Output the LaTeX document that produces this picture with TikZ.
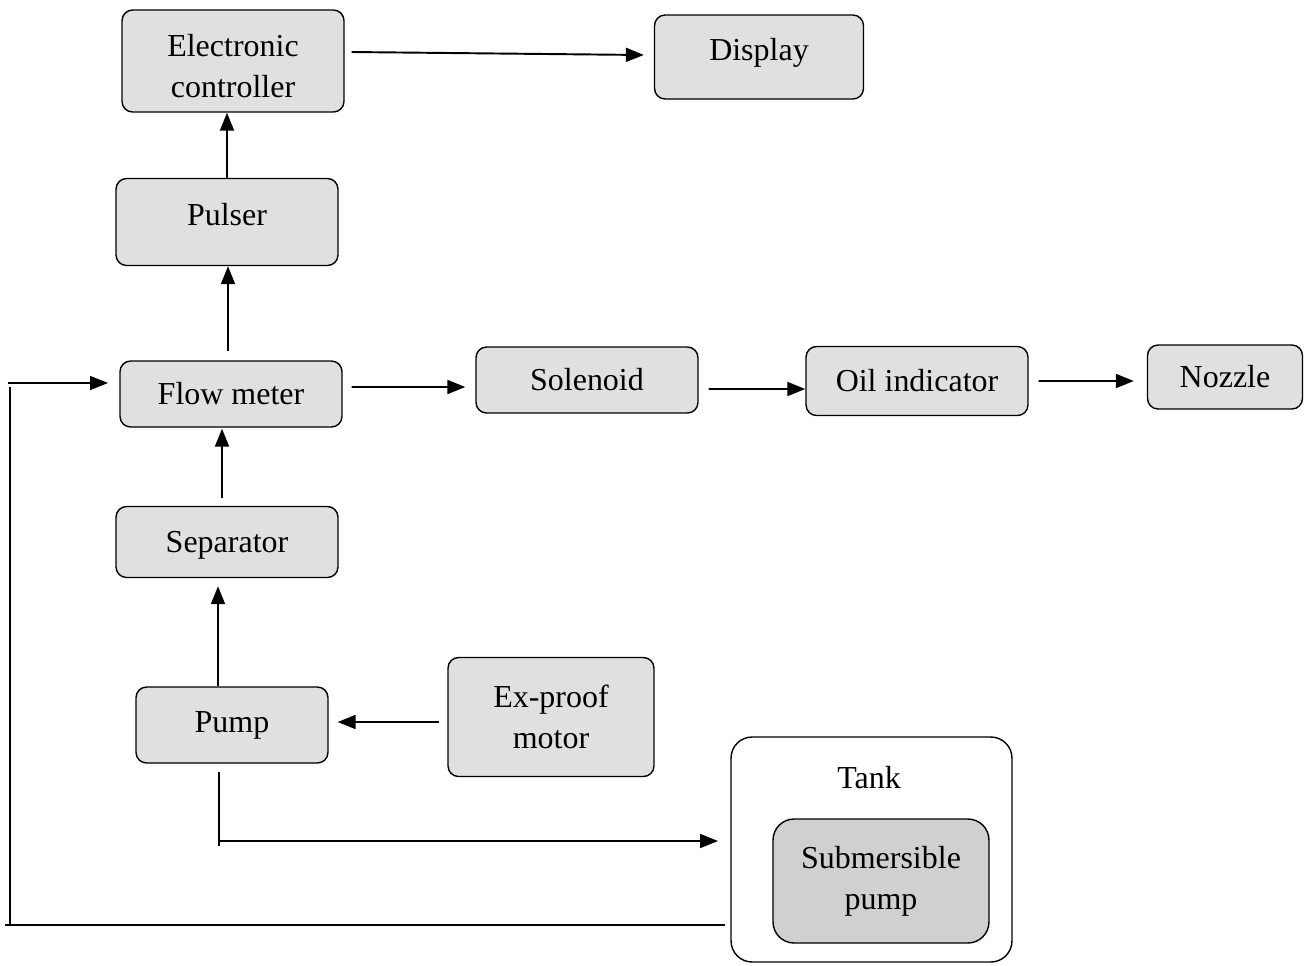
\documentclass[tikz,border=0pt]{standalone}
\usepackage{fontspec}
\setmainfont{Liberation Serif}
\usetikzlibrary{arrows.meta}
\definecolor{boxgray}{HTML}{E0E0E0}
\definecolor{pumpgray}{HTML}{D0D0D0}

\tikzset{
	blk/.style = {draw, line width=.8pt, rounded corners = 6pt, fill=boxgray, align=center, inner sep=0pt},
	arr/.style = {line width=1.1pt, -{Triangle[length=3.6mm, width=2.8mm]}},
	ret/.style = {line width=.8pt}
}

\begin{document}
\begin{tikzpicture}[x=.02cm, y=-.02cm, font=\fontsize{18.2}{23.5}\selectfont]
	\useasboundingbox (0,0) rectangle (1312,965);
	% boxes
	\node[blk, minimum width=4.44cm, minimum height=2.04cm] (ctrl) at (233,61) {\raisebox{-.3cm}[0pt][0pt]{\begin{tabular}{@{}c@{}}Electronic\\controller\end{tabular}}};
	\node[blk, minimum width=4.18cm, minimum height=1.68cm] (disp) at (759,57) {\raisebox{.3cm}{Display}};
	\node[blk, minimum width=4.44cm, minimum height=1.74cm] (pulser) at (227,222) {\raisebox{.3cm}{Pulser}};
	\node[blk, minimum width=4.44cm, minimum height=1.32cm] (flow) at (231,394) {Flow meter};
	\node[blk, minimum width=4.44cm, minimum height=1.32cm] (sol) at (587,380) {Solenoid};
	\node[blk, minimum width=4.44cm, minimum height=1.38cm] (oil) at (917,381) {Oil indicator};
	\node[blk, minimum width=3.10cm, minimum height=1.28cm] (noz) at (1225,377) {Nozzle};
	\node[blk, minimum width=4.44cm, minimum height=1.42cm] (sep) at (227,542) {\raisebox{-.21cm}[0pt][0pt]{Separator}};
	\node[blk, minimum width=3.84cm, minimum height=1.52cm] (pump) at (232,725) {Pump};
	\node[blk, minimum width=4.12cm, minimum height=2.38cm] (motor) at (551,717) {Ex-proof\\motor};
	\node[blk, fill=white, rounded corners=12pt, minimum width=5.62cm, minimum height=4.5cm] (tank) at (871.5,849.5) {};
	\node (tanklbl) at (869,778) {Tank};
	\node[blk, fill=pumpgray, rounded corners=12pt, minimum width=4.32cm, minimum height=2.48cm] (sub) at (881,881) {Submersible\\pump};

	% signal line
	\draw[arr] ([xshift=.14cm,yshift=.18cm]ctrl.east) -- ([xshift=-.2cm,yshift=.04cm]disp.west);
	\draw[arr] (pulser.north) -- (pulser.north |- ctrl.south);
	\draw[arr] ([xshift=-.06cm,yshift=.18cm]flow.north) -- ([xshift=-.06cm]flow.north |- pulser.south);

	% oil line
	\draw[arr] ([xshift=-.1cm,yshift=.16cm]sep.north) -- ([xshift=-.1cm,yshift=-.02cm]sep.north |- flow.south);
	\draw[arr] ([xshift=-.28cm]pump.north) -- ([xshift=-.28cm,yshift=-.16cm]pump.north |- sep.south);
	\draw[arr] ([xshift=-.16cm,yshift=-.1cm]motor.west) -- ([xshift=.18cm,yshift=-.1cm]motor.west -| pump.east);
	\draw[arr] ([xshift=.18cm,yshift=.14cm]flow.east) -- ([xshift=-.2cm,yshift=-.14cm]sol.west);
	\draw[arr] ([xshift=.2cm,yshift=-.18cm]sol.east) -- ([yshift=-.16cm]oil.west);
	\draw[arr] ([xshift=.2cm]oil.east) -- ([xshift=-.26cm,yshift=-.08cm]noz.west);

	% return to tank
	\coordinate (pumpout) at (219,772);
	\coordinate (tankin) at (718,841);
	\draw[arr] (pumpout) |- (tankin);
	\draw[line width=.8pt] (219,841) -- (219,846);
	\coordinate (retout) at (725,925);
	\coordinate (flowin) at (108,383);
	\draw[ret] (retout) -- (5,925);
	\draw[ret] (10,925) -- (10,387);
	\draw[arr, line width=.8pt] (8,383) -- (flowin);
\end{tikzpicture}
\end{document}
